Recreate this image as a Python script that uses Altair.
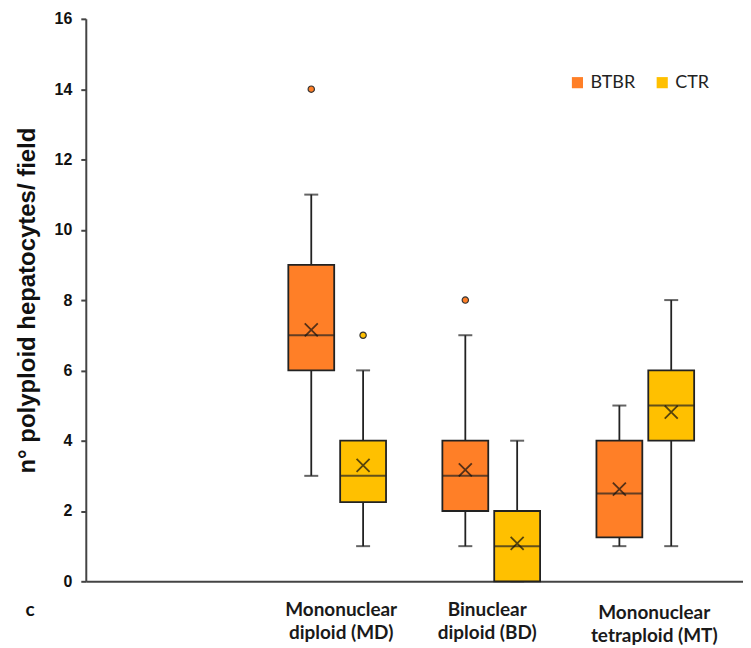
import altair as alt
import pandas as pd

groups = ["MD", "BD", "MT"]
group_labels = {
    "MD": ["Mononuclear", "diploid (MD)"],
    "BD": ["Binuclear", "diploid (BD)"],
    "MT": ["Mononuclear", "tetraploid (MT)"],
}
series = ["BTBR", "CTR"]
colors = ["#FF7F27", "#FFC000"]

box_group = ["MD", "MD", "BD", "BD", "MT", "MT"]
box_series = ["BTBR", "CTR", "BTBR", "CTR", "BTBR", "CTR"]
mins = [3, 1, 1, 0, 1, 1]
q1s = [6, 2.25, 2, 0, 1.25, 4]
medians = [7, 3, 3, 1, 2.5, 5]
q3s = [9, 4, 4, 2, 4, 6]
maxs = [11, 6, 7, 4, 5, 8]
means = [7.15, 3.3, 3.17, 1.08, 2.62, 4.81]

out_group = ["MD", "MD", "BD"]
out_series = ["BTBR", "CTR", "BTBR"]
out_values = [14, 7, 8]

y_ticks = [0, 2, 4, 6, 8, 10, 12, 14, 16]

boxes = pd.DataFrame({
    "group": box_group, "series": box_series, "lo": mins, "q1": q1s,
    "med": medians, "q3": q3s, "hi": maxs, "mean": means,
})
outs = pd.DataFrame({"group": out_group, "series": out_series, "v": out_values})

label_expr = " : ".join(
    f"datum.value == '{g}' ? {group_labels[g]!r}" for g in groups
) + " : ''"

x_enc = alt.X(
    "group:N",
    sort=groups,
    scale=alt.Scale(domain=groups, paddingInner=0, paddingOuter=0.633, align=0.894),
    axis=alt.Axis(
        title="c",
        titleX=-61, titleY=28, titleAlign="left", titleBaseline="middle", titleAngle=0,
        titleFont="Lato", titleFontSize=19, titleFontWeight="bold", titleColor="#111",
        labelExpr=label_expr,
        labelOffset={"condition": [
            {"test": "datum.value == 'MD'", "value": 4},
            {"test": "datum.value == 'MT'", "value": 9},
        ], "value": -4},
        labelPadding={"condition": {"test": "datum.value == 'MT'", "value": 22},
                      "value": 19},
        labelBaseline="top",
        labelFont="Lato", labelFontSize=19, labelFontWeight="bold",
        labelLineHeight=23.5, labelColor="#1a1a1a",
        labelAngle=0,
        ticks=False, domainColor="#444", domainWidth=2, grid=False,
    ),
)
xo_enc = alt.XOffset(
    "series:N", sort=series,
    scale=alt.Scale(domain=series, paddingInner=0, paddingOuter=0.486),
)
y_scale = alt.Scale(domain=[0, 16], nice=False, zero=True)
y_axis = alt.Axis(
    title="n° polyploid hepatocytes/ field",
    values=y_ticks, grid=False,
    titleFont="Liberation Sans", titleFontSize=24, titleFontWeight="bold",
    titleColor="#111", titlePadding=15,
    labelFont="Liberation Sans", labelFontSize=16, labelFontWeight="bold",
    labelColor="#111", labelPadding=9,
    tickSize=5, tickColor="#444", tickWidth=2, domainColor="#444", domainWidth=2,
)
color_scale = alt.Scale(domain=series, range=colors)

base = alt.Chart(boxes).encode(x=x_enc, xOffset=xo_enc)

whisk = base.mark_rule(color="#222", strokeWidth=1.8).encode(
    y=alt.Y("lo:Q", scale=y_scale, axis=y_axis), y2="hi:Q"
)
cap_lo = base.mark_tick(color="#222", size=14, thickness=2).encode(
    y=alt.Y("lo:Q", scale=y_scale, axis=y_axis)
)
cap_hi = base.mark_tick(color="#222", size=14, thickness=2).encode(
    y=alt.Y("hi:Q", scale=y_scale, axis=y_axis)
)
box = base.mark_bar(size=46, stroke="#222", strokeWidth=1.8).encode(
    y=alt.Y("q1:Q", scale=y_scale, axis=y_axis), y2="q3:Q",
    color=alt.Color("series:N", scale=color_scale, sort=series,
                    legend=alt.Legend(title=None)),
)
med = base.mark_tick(color="#222", size=46, thickness=2).encode(
    y=alt.Y("med:Q", scale=y_scale, axis=y_axis)
)
mean = base.mark_point(
    shape="M-1,-1L1,1M-1,1L1,-1", size=170, stroke="#111", strokeWidth=1.8, filled=False
).encode(y=alt.Y("mean:Q", scale=y_scale, axis=y_axis))

outl = alt.Chart(outs).mark_point(
    shape="circle", size=40, filled=True, stroke="#333", strokeWidth=1.2, opacity=1
).encode(
    x=x_enc, xOffset=xo_enc,
    y=alt.Y("v:Q", scale=y_scale, axis=y_axis),
    fill=alt.Fill("series:N", scale=color_scale, sort=series, legend=None),
)

chart = alt.layer(whisk, cap_lo, cap_hi, box, med, mean, outl).properties(
    width=659, height=564,
    autosize=alt.AutoSizeParams(type="none"),
    padding={"left": 78, "top": 10, "right": 0, "bottom": 66},
).configure_view(stroke=None).configure_legend(
    orient="none", legendX=484, legendY=55, direction="horizontal",
    symbolType="square", symbolSize=125, symbolStrokeWidth=0,
    labelFont="Lato", labelFontSize=18, labelColor="#222", labelOffset=4,
    columnPadding=18,
)

chart.save("out.html", embed_options={"renderer": "svg", "actions": False})
